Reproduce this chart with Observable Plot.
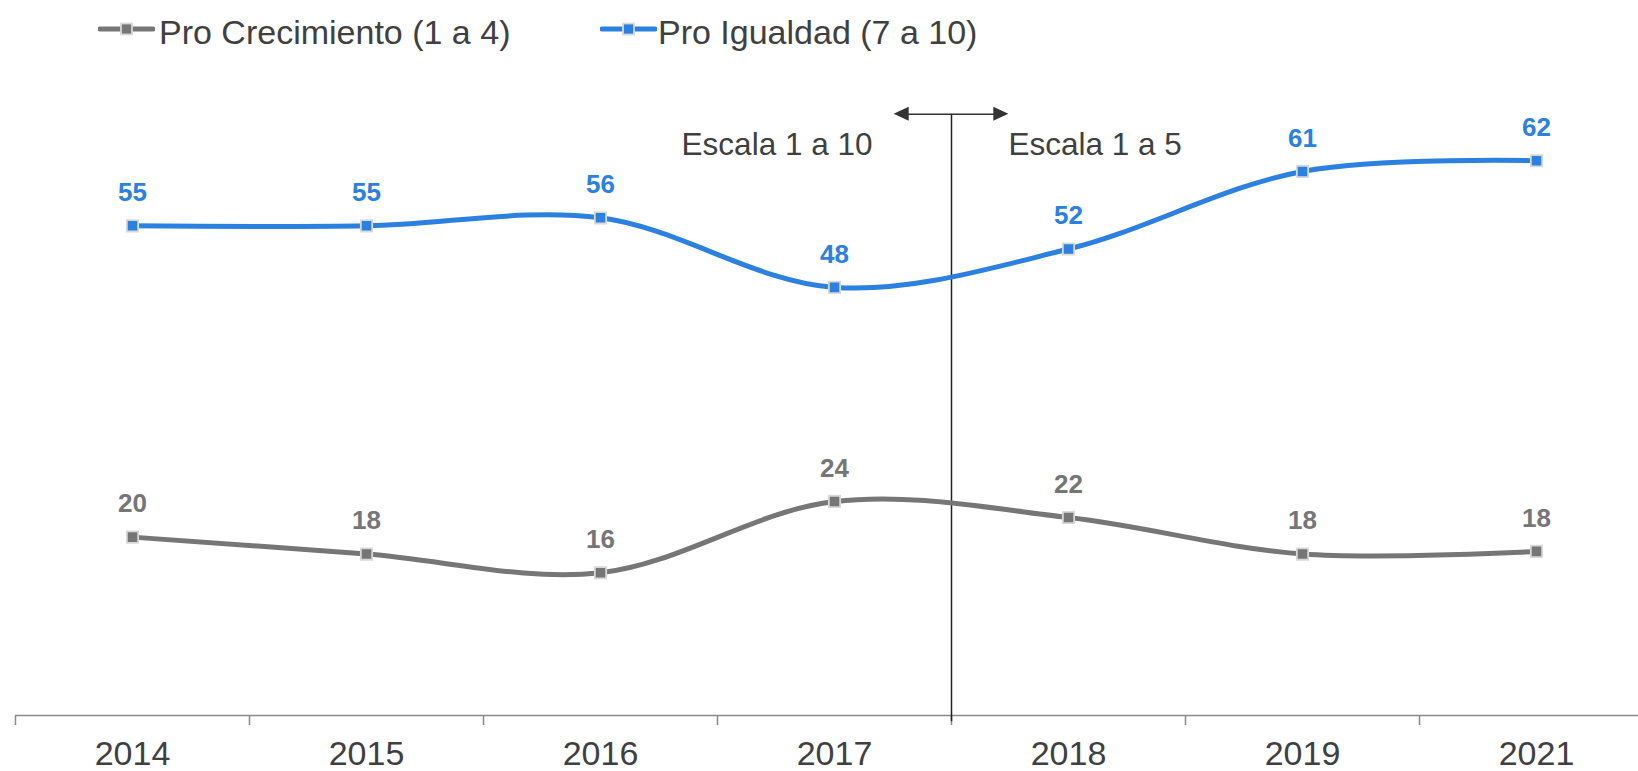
<!DOCTYPE html>
<html><head><meta charset="utf-8">
<script src="https://cdn.jsdelivr.net/npm/d3@7"></script>
<script src="https://cdn.jsdelivr.net/npm/@observablehq/plot@0.6"></script>
<style>
html,body{margin:0;padding:0;background:#fff;overflow:hidden;}
body{font-family:"Liberation Sans",Arial,sans-serif;}
#legend{position:relative;height:55px;width:1638px;}
.lbl{position:absolute;top:15px;font-size:34px;line-height:34px;color:#404040;white-space:nowrap;}
.sw{position:absolute;top:19px;}
#chart svg{display:block;}
</style></head><body>
<div id="legend"></div>
<div id="chart"></div>
<script>
// ---- data ----
const years = ["2014", "2015", "2016", "2017", "2018", "2019", "2021"];
const proCrecimiento = [20.0, 18.1, 16.0, 24.0, 22.2, 18.1, 18.4];
const proIgualdad = [54.9, 54.9, 55.8, 48.0, 52.3, 61.0, 62.2];
const seriesNames = ["Pro Crecimiento (1 a 4)", "Pro Igualdad (7 a 10)"];
const seriesColors = ["#767676", "#2b80e0"];
const scaleNotes = ["Escala 1 a 10", "Escala 1 a 5"];
const scaleBreakAfter = "2017";

// ---- legend (HTML, above the SVG) ----
const legendSwatchLeft = [98, 600];
const legendTextLeft = [159, 658];
const legend = document.getElementById("legend");
seriesNames.forEach((name, i) => {
  const c = seriesColors[i];
  const sw = document.createElement("div");
  sw.className = "sw";
  sw.style.left = legendSwatchLeft[i] + "px";
  sw.innerHTML = `<svg width="57" height="20"><line x1="2" x2="55" y1="10" y2="10" stroke="${c}" stroke-width="5" stroke-linecap="round"/><rect x="23" y="4.5" width="11" height="11" fill="${c}" stroke="#d9d9d9" stroke-width="1.8"/></svg>`;
  legend.appendChild(sw);
  const t = document.createElement("div");
  t.className = "lbl";
  t.style.left = legendTextLeft[i] + "px";
  t.textContent = name;
  legend.appendChild(t);
});

// ---- table for Plot ----
const rows = [];
years.forEach((y, i) => {
  rows.push({series: seriesNames[0], i, year: y, value: proCrecimiento[i]});
  rows.push({series: seriesNames[1], i, year: y, value: proIgualdad[i]});
});
const color = {domain: seriesNames, range: seriesColors};

const dividerX = years.indexOf(scaleBreakAfter) + 0.5;
const arrowY = 67.4;
const arrowHalf = 0.245;
const noteY = 64;

function arrowHeads(index, scales) {
  const g = d3.create("svg:g").attr("fill", "#333");
  const left = scales.x(dividerX - arrowHalf);
  const right = scales.x(dividerX + arrowHalf);
  const y = scales.y(arrowY);
  const L = 15, H = 7;
  g.append("path").attr("d", `M${left},${y}L${left + L},${y - H}L${left + L},${y + H}Z`);
  g.append("path").attr("d", `M${right},${y}L${right - L},${y - H}L${right - L},${y + H}Z`);
  return g.node();
}

const font = '"Liberation Sans", Arial, sans-serif';
const chart = Plot.plot({
  width: 1638,
  height: 716,
  marginLeft: 15,
  marginRight: -15,
  marginTop: 0,
  marginBottom: 56,
  style: {fontFamily: font, background: "#fff"},
  x: {type: "linear", domain: [-0.5, years.length - 0.5], axis: null},
  y: {domain: [0, 74], axis: null},
  color,
  marks: [
    Plot.ruleY([0], {stroke: "#8a8a8a", strokeWidth: 1.5}),
    Plot.axisX(d3.range(-0.5, years.length, 1), {tickSize: 10, tickFormat: () => "", stroke: "#8a8a8a", strokeWidth: 1.5, label: null}),
    Plot.axisX(d3.range(years.length), {tickSize: 0, tickPadding: 25, tickFormat: i => years[i], fontSize: 34, fill: "#404040", label: null}),
    Plot.ruleX([dividerX], {y1: -0.7, y2: arrowY, stroke: "#222", strokeWidth: 1.5}),
    Plot.ruleY([arrowY], {x1: dividerX - arrowHalf + 0.02, x2: dividerX + arrowHalf - 0.02, stroke: "#333", strokeWidth: 1.5}),
    arrowHeads,
    Plot.text([scaleNotes[0]], {x: () => dividerX, y: () => noteY, text: d => d, textAnchor: "end", dx: -79, fontSize: 31.5, fill: "#404040"}),
    Plot.text([scaleNotes[1]], {x: () => dividerX, y: () => noteY, text: d => d, textAnchor: "start", dx: 57, fontSize: 31.5, fill: "#404040"}),
    Plot.line(rows, {x: "i", y: "value", z: "series", stroke: "series", strokeWidth: 5, curve: "catmull-rom"}),
    Plot.dot(rows, {x: "i", y: "value", fill: "series", symbol: "square", r: 6.4, stroke: "#d9d9d9", strokeWidth: 1.8}),
    Plot.text(rows, {x: "i", y: "value", text: d => String(Math.round(d.value)), dy: -33, fill: "series", fontSize: 26, fontWeight: "bold"})
  ]
});
document.getElementById("chart").appendChild(chart);
</script>
</body></html>
